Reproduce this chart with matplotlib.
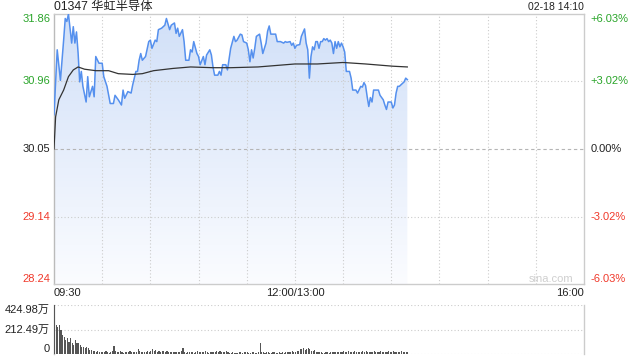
import numpy as np
import matplotlib
matplotlib.use('Agg')
import matplotlib.pyplot as plt
from matplotlib.colors import LinearSegmentedColormap
from matplotlib.patches import PathPatch
from matplotlib.path import Path

plt.rcParams['font.family'] = ['Liberation Sans', 'Noto Sans CJK SC', 'DejaVu Sans']

# ---------------- data ----------------
title = "01347 华虹半导体"
timestamp = "02-18 14:10"
prev_close = 30.05
price_ticks = [28.24, 29.14, 30.05, 30.96, 31.86]
pct_labels = ["-6.03%", "-3.02%", "0.00%", "+3.02%", "+6.03%"]
time_labels = ["09:30", "12:00/13:00", "16:00"]
time_label_minutes = [0, 150, 330]
session_minutes = 330
vol_ticks = [0, 212.49, 424.98]
vol_labels = ["0", "212.49万", "424.98万"]

price_minutes = [0, 2, 4, 6, 7, 8, 9, 11, 12, 13, 14, 15, 16, 17, 18, 20, 21, 22, 24, 25,
                 26, 28, 30, 31, 33, 35, 37, 38, 40, 42, 43, 44, 46, 48, 49, 51, 52, 53, 54, 55,
                 57, 59, 60, 61, 63, 64, 65, 67, 69, 70, 72, 73, 75, 76, 77, 78, 80, 81, 82, 84,
                 85, 86, 87, 89, 90, 91, 93, 94, 95, 97, 98, 99, 100, 102, 103, 104, 105, 107, 108, 110,
                 112, 113, 114, 116, 117, 118, 120, 121, 122, 123, 124, 125, 126, 128, 129, 130, 132, 133, 134, 135,
                 138, 139, 141, 143, 144, 145, 147, 148, 149, 150, 151, 153, 154, 156, 157, 158, 159, 160, 161, 162,
                 163, 164, 165, 166, 167, 168, 169, 170, 171, 172, 173, 174, 175, 176, 177, 178, 179, 180, 181, 182,
                 184, 185, 186, 188, 189, 191, 192, 193, 194, 195, 196, 197, 198, 199, 202, 203, 205, 206, 207, 208,
                 210, 211, 212, 213, 214, 215, 217, 218, 219, 220]
price_values = [30.51, 31.38, 30.97, 31.51, 31.80, 31.76, 31.86, 31.47, 31.69, 31.47, 31.62, 31.34, 30.95, 31.09, 30.89, 30.68, 31.02, 30.75, 30.89, 30.75,
                31.29, 31.20, 31.20, 31.02, 30.89, 30.66, 30.66, 30.77, 30.71, 30.64, 30.84, 30.73, 30.82, 30.80, 30.91, 31.09, 31.09, 31.24, 31.33, 31.24,
                31.29, 31.49, 31.51, 31.40, 31.51, 31.49, 31.65, 31.67, 31.71, 31.80, 31.65, 31.71, 31.74, 31.60, 31.67, 31.56, 31.65, 31.49, 31.24, 31.24,
                31.38, 31.35, 31.49, 31.33, 31.29, 31.18, 31.29, 31.18, 31.31, 31.38, 31.31, 31.15, 31.04, 31.04, 31.09, 31.04, 31.18, 31.18, 31.11, 31.40,
                31.56, 31.49, 31.51, 31.59, 31.58, 31.49, 31.47, 31.38, 31.22, 31.38, 31.27, 31.40, 31.56, 31.59, 31.47, 31.33, 31.47, 31.63, 31.70, 31.59,
                31.59, 31.49, 31.49, 31.47, 31.49, 31.48, 31.49, 31.44, 31.47, 31.40, 31.44, 31.45, 31.56, 31.66, 31.47, 31.38, 31.00, 31.29, 31.42, 31.38,
                31.49, 31.49, 31.40, 31.49, 31.49, 31.53, 31.51, 31.53, 31.49, 31.51, 31.47, 31.33, 31.49, 31.40, 31.49, 31.42, 31.47, 31.42, 31.35, 31.09,
                31.09, 31.00, 30.84, 30.84, 30.80, 30.89, 30.88, 30.94, 30.90, 30.75, 30.62, 30.74, 30.68, 30.84, 30.84, 30.77, 30.71, 30.64, 30.58, 30.68,
                30.68, 30.60, 30.64, 30.80, 30.89, 30.89, 30.93, 30.95, 31.00, 30.98]

avg_minutes = [0, 1, 3, 6, 9, 12, 15, 19, 26, 34, 40, 49, 55, 62, 74, 85, 99, 110, 127, 150, 164, 180, 194, 211, 220]
avg_values = [30.05, 30.48, 30.71, 30.84, 31.02, 31.11, 31.15, 31.12, 31.10, 31.10, 31.06, 31.05, 31.06, 31.10, 31.13,
              31.15, 31.14, 31.14, 31.15, 31.19, 31.19, 31.21, 31.19, 31.16, 31.15]

volume = [425, 251, 237, 251, 208, 165, 150, 121, 136, 107, 136, 92, 78, 121, 92, 92, 78, 64, 64, 49, 64, 49, 35, 35, 29,
          22, 18, 25, 15, 20, 14, 18, 24, 16, 12, 20, 28, 69, 30, 18, 14, 22, 18, 12, 16, 20, 15, 24, 18, 14,
          16, 20, 45, 22, 18, 14, 20, 16, 25, 18, 22, 45, 28, 35, 20, 30, 18, 25, 22, 16, 28, 20, 18, 14, 16,
          18, 14, 20, 16, 22, 50, 14, 12, 16, 18, 14, 20, 12, 18, 22, 16, 14, 18, 20, 24, 16, 12, 18, 14, 20,
          16, 22, 18, 25, 20, 14, 18, 22, 16, 12, 10, 14, 8, 12, 10, 14, 18, 12, 16, 20, 14, 10, 12, 16, 14,
          12, 10, 14, 98, 20, 16, 12, 14, 18, 12, 10, 16, 14, 12, 10, 14, 12, 16, 12, 18, 14, 20, 16, 22, 18,
          20, 25, 30, 45, 40, 50, 35, 45, 55, 40, 30, 25, 35, 20, 18, 14, 16, 12, 10, 14, 16, 12, 14, 18, 14,
          16, 20, 14, 18, 16, 22, 18, 20, 24, 18, 16, 20, 22, 16, 14, 18, 20, 24, 16, 22, 18, 20, 14, 18, 22,
          16, 20, 14, 22, 18, 16, 14, 20, 24, 18, 16, 22, 14, 18, 20, 16, 24, 14, 18, 20, 16]
vol_minutes = list(range(len(volume)))

assert len(price_minutes) == len(price_values)
assert len(avg_minutes) == len(avg_values)

# ---------------- style ----------------
UP = '#2aa52a'
DOWN = '#f0392b'
GRID = '#cccccc'
LINE = '#5590ee'
FS = 8

fig = plt.figure(figsize=(6.4, 3.6), dpi=100)
W, H = 640, 360
ax = fig.add_axes([54 / W, 1 - 284 / H, 530 / W, 270 / H])
axv = fig.add_axes([54 / W, 1 - 354 / H, 530 / W, 49 / H])

ymin, ymax = price_ticks[0], price_ticks[-1]
ax.set_xlim(0, session_minutes)
ax.set_ylim(ymin, ymax)

# gradient fill under price line
verts = [(price_minutes[0], ymin)] + list(zip(price_minutes, price_values)) + [(price_minutes[-1], ymin), (price_minutes[0], ymin)]
clip = PathPatch(Path(verts), transform=ax.transData, facecolor='none', edgecolor='none')
ax.add_patch(clip)
cmap = LinearSegmentedColormap.from_list('g', ['#fbfcff', '#d1e0f8'])
grad = np.linspace(0, 1, 256).reshape(-1, 1)
im = ax.imshow(grad, extent=[0, session_minutes, ymin, ymax], origin='lower', aspect='auto',
               cmap=cmap, zorder=1, interpolation='bilinear')
im.set_clip_path(clip)

# grid
for m in range(30, session_minutes, 30):
    ax.axvline(m, color=GRID, lw=0.8, ls=(0, (1, 2)), zorder=2)
for p in price_ticks[1:-1]:
    if p == prev_close:
        ax.axhline(p, color='#b5b5b5', lw=0.8, ls=(0, (3, 2.5)), zorder=2)
    else:
        ax.axhline(p, color=GRID, lw=0.8, ls=(0, (1, 2)), zorder=2)

ax.plot(price_minutes, price_values, color=LINE, lw=1.1, zorder=4)
ax.plot(avg_minutes, avg_values, color='#333333', lw=0.9, zorder=5)

ax.set_xticks([])
ax.set_yticks([])
for s in ax.spines.values():
    s.set_color(GRID)
    s.set_linewidth(1)
ax.spines['left'].set_color('#bbbbbb')

ytr = ax.get_yaxis_transform()
for p, pl in zip(price_ticks, pct_labels):
    if p > prev_close:
        c = UP
    elif p < prev_close:
        c = DOWN
    else:
        c = '#222222'
    va = 'top' if p == ymax else ('bottom' if p == ymin else 'center')
    ax.annotate(f"{p:.2f}", xy=(0, p), xycoords=ytr, xytext=(-2.5, 0), textcoords='offset points',
                ha='right', va=va, fontsize=FS, color=c)
    ax.annotate(pl, xy=(1, p), xycoords=ytr, xytext=(4.5, 0), textcoords='offset points',
                ha='left', va=va, fontsize=FS, color=c)

xtr = ax.get_xaxis_transform()
for m, lab in zip(time_label_minutes, time_labels):
    ha = 'left' if m == 0 else ('right' if m == session_minutes else 'center')
    ax.annotate(lab, xy=(m, 0), xycoords=xtr, xytext=(0, -6.5), textcoords='offset points',
                ha=ha, va='center', fontsize=FS, color='#222222')

ax.annotate(title, xy=(0, 1), xycoords='axes fraction', xytext=(0, 5), textcoords='offset points',
            ha='left', va='center', fontsize=8.8, color='#222222')
ax.annotate(timestamp, xy=(1, 1), xycoords='axes fraction', xytext=(0, 5), textcoords='offset points',
            ha='right', va='center', fontsize=7.5, color='#222222')
ax.text(0.979, 0.019, "sina.com", transform=ax.transAxes, ha='right', va='center',
        fontsize=8, color='#cfcfcf')

# volume panel
axv.set_xlim(0, session_minutes)
axv.set_ylim(0, vol_ticks[-1])
axv.bar(vol_minutes, volume, width=0.7, align='edge', color='#555555', zorder=3)
for v in vol_ticks:
    axv.axhline(v, color=GRID, lw=0.8, ls=(0, (1, 2)), zorder=2)
axv.set_xticks([])
axv.set_yticks([])
for k, s in axv.spines.items():
    s.set_color(GRID)
    s.set_linewidth(1)
axv.spines['top'].set_visible(False)
axv.spines['bottom'].set_visible(False)
axv.spines['left'].set_color('#bbbbbb')
vtr = axv.get_yaxis_transform()
for v, lab in zip(vol_ticks, vol_labels):
    va = 'top' if v == vol_ticks[-1] else ('bottom' if v == 0 else 'center')
    axv.annotate(lab, xy=(0, v), xycoords=vtr, xytext=(-3, 0), textcoords='offset points',
                 ha='right', va=va, fontsize=FS, color='#222222')

fig.savefig('out.png', dpi=100)
